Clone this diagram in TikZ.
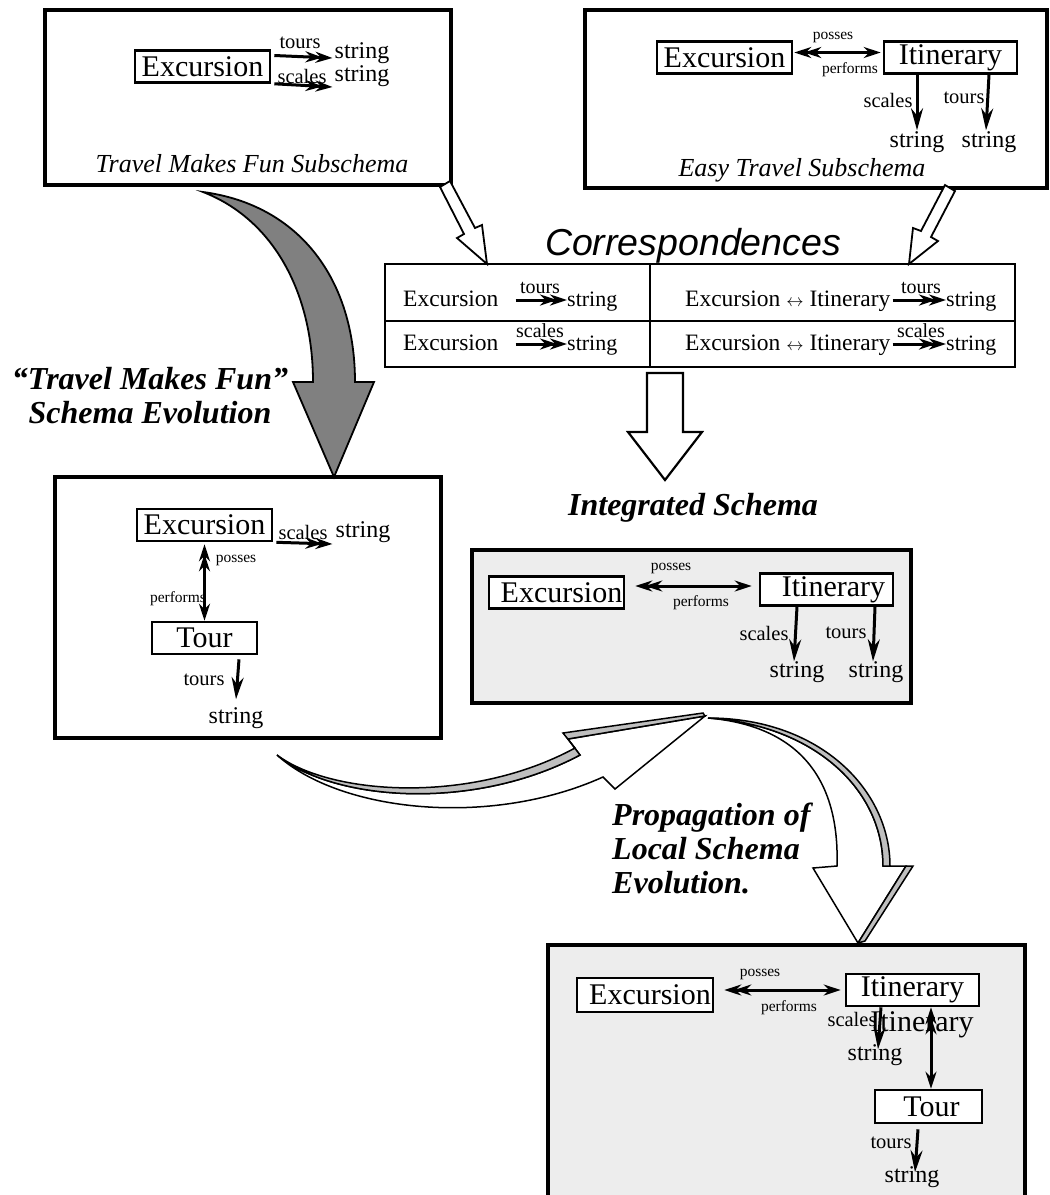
\documentclass[tikz,border=0pt]{standalone}
\usepackage{fontspec}
\setmainfont{Liberation Serif}
\setsansfont{Liberation Sans}
\usetikzlibrary{arrows.meta}

\begin{document}
\begin{tikzpicture}[x=1pt,y=-1pt,
	every node/.style={inner sep=0pt},
	outer/.style={draw,line width=3.4pt},
	cls/.style={draw,fill=white,line width=2.6pt,font=\fontsize{30}{32}\selectfont,minimum height=32pt},
	strn/.style={font=\fontsize{24}{26}\selectfont},
	lbl/.style={font=\fontsize{20.5}{22}\selectfont},
	rel/.style={font=\fontsize{15.5}{17}\selectfont},
	capt/.style={font=\fontsize{26}{28}\selectfont\itshape},
	ttl/.style={font=\fontsize{32}{34}\selectfont\bfseries\itshape},
	link/.style={line width=3pt,-{Stealth[length=22pt,width=12pt]}},
	twin/.style={line width=3pt,-{Stealth[length=17pt,width=11pt,sep=-7pt]Stealth[length=17pt,width=11pt]}},
	biarr/.style={line width=3pt,{Stealth[length=17pt,width=11pt]Stealth[length=17pt,width=11pt,sep=-7pt]}-{Stealth[length=17pt,width=11pt]}},
	block/.style={draw,line width=1.8pt,line join=miter,fill=white},
	]
	\useasboundingbox (0,0) rectangle (1050,1195);
	\draw[outer] (45,10) rectangle (451,185);
	\node[cls,minimum width=135pt] (tlExc) at (202.5,66.5) {Excursion};
	\node[lbl] (tlToursL) at (300,43) {tours};
	\node[strn] (tlS1) at (362,53) {string};
	\node[lbl] (tlScalesL) at (302,76) {scales};
	\node[strn] (tlS2) at (362,76) {string};
	\draw[twin] ([xshift=3pt,yshift=11pt]tlExc.east) -- ([xshift=-2pt,yshift=-5pt]tlS1.west);
	\draw[twin] ([xshift=3pt]tlExc.south east) -- ([xshift=-2pt,yshift=-11pt]tlS2.west);
	\node[capt] (tlCap) at (252,164) {Travel Makes Fun Subschema};
	\draw[outer] (585,10) rectangle (1047,188);
	\node[cls,minimum width=135pt] (trExc) at (724.5,57.5) {Excursion};
	\node[cls,minimum width=133pt] (trItin) at (950.5,57.5) {Itinerary};
	\draw[biarr] ([xshift=1pt,yshift=5pt]trExc.east) -- ([xshift=-2pt,yshift=5pt]trItin.west);
	\node[rel] (trPos) at (833,37) {posses};
	\node[rel] (trPerf) at (850,70) {performs};
	\node[lbl] (trScalesL) at (888,100) {scales};
	\node[lbl] (trToursL) at (964,98) {tours};
	\node[strn] (trSs) at (917,142) {string};
	\node[strn] (trSt) at (989,142) {string};
	\draw[link] ([xshift=-33.5pt]trItin.south) -- ([yshift=1pt]trSs.north);
	\draw[link] ([xshift=38.5pt]trItin.south) -- ([xshift=-3pt,yshift=1pt]trSt.north);
	\node[capt] (trCap) at (802,170) {Easy Travel Subschema};
	\draw[block] (450,181) -- (475,228) -- (482,225) -- (487,264) -- (457,238) -- (464,234) -- (440,187) -- cycle;
	\draw[block] (955,191) -- (931,237) -- (938,241) -- (909,264) -- (913,228) -- (921,231) -- (945,185) -- cycle;
	\node[font=\fontsize{37.5}{39}\sffamily\itshape] (corrT) at (693,246) {Correspondences};
	\draw[line width=2.2pt] (385,264) rectangle (1015,367);
	\draw[line width=2.2pt] (650,264) -- (650,367);
	\draw[line width=2.2pt] (385,321) -- (1015,321);
	\begin{scope}[every node/.append style={font=\fontsize{23.5}{25}\selectfont}]
		\node[anchor=base west] (c1a) at (403,306) {Excursion};
		\node[anchor=base west,font=\fontsize{22}{24}\selectfont] (c1s) at (567,306) {string};
		\node[anchor=base,font=\fontsize{20}{22}\selectfont] (c1l) at (540,293) {tours};
		\node[anchor=base west] (c2a) at (403,350) {Excursion};
		\node[anchor=base west,font=\fontsize{22}{24}\selectfont] (c2s) at (567,350) {string};
		\node[anchor=base,font=\fontsize{20}{22}\selectfont] (c2l) at (540,337) {scales};
		\node[anchor=base west] (c1b) at (685,306) {Excursion {\fontsize{18}{18}\selectfont$\leftrightarrow$} Itinerary};
		\node[anchor=base west,font=\fontsize{22}{24}\selectfont] (c1t) at (946,306) {string};
		\node[anchor=base,font=\fontsize{20}{22}\selectfont] (c1m) at (921,293) {tours};
		\node[anchor=base west] (c2b) at (685,350) {Excursion {\fontsize{18}{18}\selectfont$\leftrightarrow$} Itinerary};
		\node[anchor=base west,font=\fontsize{22}{24}\selectfont] (c2t) at (946,350) {string};
		\node[anchor=base,font=\fontsize{20}{22}\selectfont] (c2m) at (921,337) {scales};
	\end{scope}
	\draw[twin] ([xshift=17pt,yshift=6pt]c1a.base east) -- ([yshift=6pt]c1s.base west);
	\draw[twin] ([xshift=17pt,yshift=6pt]c2a.base east) -- ([yshift=6pt]c2s.base west);
	\draw[twin] ([xshift=2pt,yshift=6pt]c1b.base east) -- ([yshift=6pt]c1t.base west);
	\draw[twin] ([xshift=2pt,yshift=6pt]c2b.base east) -- ([yshift=6pt]c2t.base west);
	\draw[block,line width=2.2pt] (647,373) -- (647,432) -- (628,432) -- (665,480) -- (702,432) -- (683,432) -- (683,373) -- cycle;
	\node[ttl] (intT) at (693,508) {Integrated Schema};
	\draw[line width=1.8pt,fill=gray,line join=miter] (203,192) .. controls (300,205) and (355,280) .. (355,382) -- (374,382) -- (334,477) -- (293,382) -- (313,382) .. controls (313,295) and (275,220) .. (203,192) -- cycle;
	\node[ttl,align=center] (evoT) at (150,396) {“Travel Makes Fun”\\Schema Evolution};
	\draw[outer] (55,477) rectangle (441,738);
	\node[cls,minimum width=135pt] (lmExc) at (204.5,525) {Excursion};
	\node[cls,minimum width=105pt] (lmTour) at (204.5,638) {Tour};
	\draw[biarr] ([yshift=-2pt]lmExc.south) -- (lmTour.north);
	\node[rel] (lmPos) at (236,560) {posses};
	\node[rel] (lmPerf) at (178,599) {performs};
	\node[lbl] (lmScalesL) at (303,532) {scales};
	\node[strn] (lmS) at (363,532) {string};
	\draw[twin] ([xshift=3pt]lmExc.south east) -- ([xshift=-3pt,yshift=-12pt]lmS.west);
	\node[lbl] (lmToursL) at (204,680) {tours};
	\node[strn] (lmT) at (236,718) {string};
	\draw[link] ([xshift=34.5pt,yshift=-4pt]lmTour.south) -- ([yshift=8pt]lmT.north);
	\draw[outer,fill=gray!14] (472,550) rectangle (911,703);
	\node[cls,minimum width=135pt] (inExc) at (556.5,592.5) {\hspace{10pt}Excursion};
	\node[cls,minimum width=133pt] (inItin) at (826.5,589.5) {\hspace{14pt}Itinerary};
	\draw[biarr] ([xshift=10pt,yshift=6.5pt]inExc.east) -- ([xshift=-7pt,yshift=3.5pt]inItin.west);
	\node[rel] (inPos) at (671,568) {posses};
	\node[rel] (inPerf) at (701,603) {performs};
	\node[lbl] (inScalesL) at (764,633) {scales};
	\node[lbl] (inToursL) at (846,633) {tours};
	\node[strn] (inSs) at (797,672) {string};
	\node[strn] (inSt) at (876,672) {string};
	\draw[link] ([xshift=-29.5pt]inItin.south) -- ([xshift=-3pt]inSs.north);
	\draw[link] ([xshift=48.5pt]inItin.south) -- ([xshift=-3pt]inSt.north);
	\draw[line width=1.5pt,fill=white,line join=miter] (277,755) .. controls (335,802) and (475,811) .. (580,755) -- (568,739) -- (705,716) -- (615,789) -- (603,777) .. controls (490,828) and (340,812) .. (277,755) -- cycle;
	\draw[line width=1.5pt,fill=gray!50,line join=miter] (277,755) .. controls (330,795) and (470,805) .. (575,748) -- (563,733) -- (703,713) -- (705,716) -- (568,739) -- (580,755) .. controls (475,811) and (335,802) .. (277,755) -- cycle;
	\draw[line width=1.5pt,fill=white,line join=miter] (708,718) .. controls (815,725) and (883,790) .. (883,866) -- (906,866) -- (858,943) -- (813,868) -- (837,866) .. controls (840,770) and (790,725) .. (708,718) -- cycle;
	\draw[line width=1.5pt,fill=gray!50,line join=miter] (708,718) .. controls (820,718) and (890,790) .. (890,866) -- (883,866) .. controls (883,790) and (815,725) .. (708,718) -- cycle;
	\draw[line width=1.5pt,fill=gray!50,line join=miter] (906,866) -- (913,866) -- (865,941) -- (858,943) -- cycle;
	\node[ttl,align=left,anchor=north west,font=\fontsize{32}{34}\selectfont\bfseries\itshape] (propT) at (612,803) {Propagation of\\Local Schema\\Evolution.};
	\draw[outer,fill=gray!14] (548,945) rectangle (1025,1210);
	\node[cls,minimum width=136pt,minimum height=34pt] (btExc) at (645,995) {\hspace{10pt}Excursion};
	\node[cls,minimum width=133pt] (btItin) at (912.5,990) {Itinerary};
	\node[font=\fontsize{30}{32}\selectfont] (btGhost) at (922,1025) {Itinerary};
	\draw[biarr] ([xshift=10pt,yshift=5pt]btExc.east) -- ([xshift=-4pt]btItin.west);
	\node[rel] (btPos) at (760,974) {posses};
	\node[rel] (btPerf) at (789,1008) {performs};
	\node[lbl] (btScalesL) at (852,1019) {scales};
	\node[strn] (btSs) at (875,1055) {string};
	\draw[link] ([xshift=-31.5pt]btItin.south) -- ([xshift=3pt,yshift=-5pt]btSs.north);
	\node[cls,minimum width=107pt,minimum height=33pt] (btTour) at (928.5,1106.5) {\hspace{6pt}Tour};
	\draw[biarr] ([xshift=18.5pt]btItin.south) -- ([xshift=2.5pt]btTour.north);
	\node[lbl] (btToursL) at (891,1143) {tours};
	\node[strn] (btSt) at (912,1177) {string};
	\draw[link] ([xshift=-10.5pt,yshift=-5pt]btTour.south) -- ([xshift=3pt,yshift=-6pt]btSt.north);
\end{tikzpicture}
\end{document}
